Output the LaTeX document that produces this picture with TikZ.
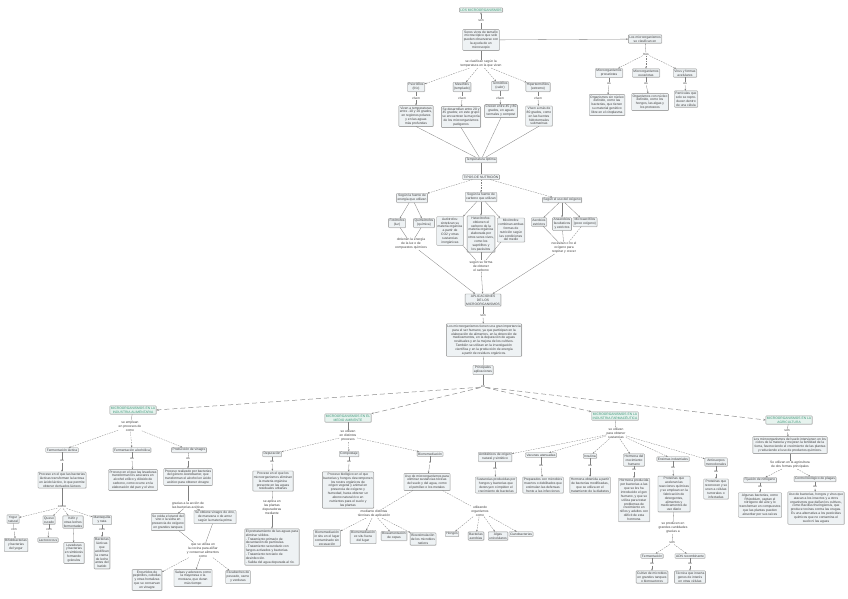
\documentclass[tikz,border=0pt]{standalone}
\usepackage{fontspec}
\setmainfont{Liberation Sans}
\usetikzlibrary{arrows.meta,shadows}
\definecolor{bfill}{RGB}{238,242,244}
\definecolor{gfill}{RGB}{230,243,238}
\definecolor{gtext}{RGB}{60,150,120}
\newcommand{\myfs}{\fontsize{3.3}{3.9}\selectfont}
\begin{document}
\begin{tikzpicture}[x=1pt,y=-1pt,
 bx/.style={draw=black!45, fill=bfill, line width=0.35pt, rounded corners=0.6pt, inner sep=1pt, align=center, font=\myfs, text=black!75, drop shadow={shadow xshift=0.5pt, shadow yshift=-0.5pt, fill=black!30}},
 gbx/.style={bx, fill=gfill, text=gtext, draw=black!40},
 lb/.style={inner sep=0.4pt, align=center, font=\myfs, text=black!75},
 ln/.style={draw=black!50, line width=0.3pt},
 dl/.style={ln, dash pattern=on 1.6pt off 1pt},
 ar/.style={-{Stealth[length=2pt,width=1.6pt]}},
 hl/.style={draw=black!45, line width=0.5pt, dash pattern=on 5pt off 3pt, -{Stealth[length=2.5pt,width=2pt]}},
]
\useasboundingbox[fill=white] (0,0) rectangle (848,599);

% ---------------- top ----------------
\node[gbx] (t0) at (481,10) {LOS MICROORGANISMOS};
\node[lb] (l0) at (481,21) {son};
\node[bx] (a1) at (481,40) {Seres vivos de tamaño\\ microscópico que solo\\ pueden observarse con\\ la ayuda de un\\ microscopio};
\node[lb] (l1) at (481,64) {se clasifican según la\\ temperatura en la que viven};
\node[bx] (b1) at (416,87) {Psicrófilos\\ (frío)};
\node[bx] (b2) at (462,87) {Mesófilos\\ (templado)};
\node[bx] (b3) at (500,86) {Termófilos\\ (calor)};
\node[bx] (b4) at (538,87) {Hipertermófilos\\ (extremo)};
\node[lb] (lb1) at (416,98) {viven};
\node[lb] (lb2) at (462,98) {viven};
\node[lb] (lb3) at (500,98) {viven};
\node[lb] (lb4) at (538,98) {viven};
\node[bx] (c1) at (416,116) {Viven a temperaturas\\ entre -10 y 20 grados,\\ en regiones polares\\ y en las aguas\\ más profundas};
\node[bx] (c2) at (461,117) {Se desarrollan entre 20 y\\ 45 grados; en este grupo\\ se encuentran la mayoría\\ de los microorganismos\\ patógenos};
\node[bx] (c3) at (501,111) {Crecen entre 45 y 80\\ grados, en aguas\\ termales y compost};
\node[bx] (c4) at (539,116) {Viven a más de\\ 80 grados, como\\ en las fuentes\\ hidrotermales\\ submarinas};
\node[bx] (m1) at (481,160) {Temperatura óptima};

\draw[ln] (a1) -- (l0); \draw[ln,ar] (l0) -- (t0);
\draw[ln] (a1) -- (l1);
\foreach \i in {1,2,3,4}{\draw[dl,ar] (l1) -- (b\i); \draw[ln] (b\i) -- (lb\i); \draw[ln,ar] (lb\i) -- (c\i); \draw[ln] (c\i.south) -- (m1);}

% ---------------- top right ----------------
\node[bx] (r0) at (645,39) {Los microorganismos\\ se clasifican en};
\node[lb] (lr) at (646,54) {tres};
\node[bx] (r1) at (609,73) {Microorganismos\\ procariotas};
\node[bx] (r2) at (646,73) {Microorganismos\\ eucariotas};
\node[bx] (r3) at (685,73) {Virus y formas\\ acelulares};
\node[lb] (lr1) at (609,84) {es};
\node[lb] (lr2) at (646,84) {es};
\node[lb] (lr3) at (685,84) {es};
\node[bx] (s1) at (607,105) {Organismos sin núcleo\\ definido, como las\\ bacterias, que tienen\\ su material genético\\ libre en el citoplasma};
\node[bx] (s2) at (650,102) {Organismos con núcleo\\ definido, como los\\ hongos, las algas y\\ los protozoos};
\node[bx] (s3) at (686,99) {Partículas que\\ solo se repro-\\ ducen dentro\\ de una célula};
\draw[ln,ar] (a1) -- (r0);
\draw[ln] (r0) -- (lr);
\foreach \i in {1,2,3}{\draw[dl,ar] (lr) -- (r\i); \draw[ln] (r\i) -- (lr\i); \draw[ln,ar] (lr\i) -- (s\i);}

% ---------------- middle ----------------
\node[bx] (tp) at (481,177) {TIPOS DE NUTRICIÓN};
\node[bx] (k1) at (412,198) {Según la fuente de\\ energía que utilizan};
\node[bx] (k2) at (481,197) {Según la fuente de\\ carbono que utilizan};
\node[bx] (k3) at (562,200) {Según el uso del oxígeno};
\node[bx] (k11) at (397,223) {Fotótrofos\\ (luz)};
\node[bx] (k12) at (424,223) {Quimiótrofos\\ (química)};
\node[lb] (q1) at (411,244) {obtienen la energía\\ de la luz o de\\ compuestos químicos};
\node[bx] (k21) at (450,231) {Autótrofos:\\ sintetizan su\\ materia orgánica\\ a partir de\\ CO2 y otras\\ sustancias\\ inorgánicas};
\node[bx] (k22) at (481,234) {Heterótrofos:\\ obtienen el\\ carbono de la\\ materia orgánica\\ elaborada por\\ otros seres vivos,\\ como los\\ saprófitos y\\ los parásitos};
\node[bx] (k23) at (511,230) {Mixótrofos:\\ combinan ambas\\ formas de\\ nutrición según\\ las condiciones\\ del medio};
\node[lb] (q2) at (481,266) {según su forma\\ de obtener\\ el carbono};
\node[bx] (k31) at (539,222) {Aerobios\\ estrictos};
\node[bx] (k32) at (562,224) {Anaerobios\\ facultativos\\ y estrictos};
\node[bx] (k33) at (585,222) {Microaerófilos\\ (poco oxígeno)};
\node[lb] (q3) at (564,248) {necesitan o no el\\ oxígeno para\\ respirar y crecer};
\node[bx] (ap) at (483,300) {APLICACIONES\\ DE LOS\\ MICROORGANISMOS};
\node[lb] (lap) at (483,316) {son};
\node[bx] (bp) at (484,340) {Los microorganismos tienen una gran importancia\\ para el ser humano, ya que participan en la\\ elaboración de alimentos, en la obtención de\\ medicamentos, en la depuración de aguas\\ residuales y en la mejora de los cultivos.\\ También se utilizan en la investigación\\ científica y en la producción de energía\\ a partir de residuos orgánicos.};
\node[bx] (sm) at (483,370) {Principales\\ aplicaciones};
\node[lb] (hub) at (483,387) {en};

\draw[ln] (m1) -- (tp);
\foreach \i in {1,2,3}{\draw[dl,ar] (tp) -- (k\i);}
\draw[ln,ar] (k1) -- (k11); \draw[ln,ar] (k1) -- (k12);
\draw[ln] (k11) -- (q1); \draw[ln] (k12) -- (q1);
\draw[ln,ar] (k2) -- (k21); \draw[ln,ar] (k2) -- (k22); \draw[ln,ar] (k2) -- (k23);
\draw[ln] (k21) -- (q2); \draw[ln] (k22) -- (q2); \draw[ln] (k23) -- (q2);
\draw[ln,ar] (k3) -- (k31); \draw[ln,ar] (k3) -- (k32); \draw[ln,ar] (k3) -- (k33);
\draw[ln] (k31) -- (q3); \draw[ln] (k32) -- (q3); \draw[dl] (k33) -- (q3);
\draw[ln,ar] (q1) -- (ap); \draw[ln,ar] (q2) -- (ap); \draw[ln,ar] (q3) -- (ap);
\draw[ln] (ap) -- (lap); \draw[ln,ar] (lap) -- (bp);
\draw[ln] (bp) -- (sm); \draw[ln] (sm) -- (hub);

% ---------------- green headers ----------------
\node[gbx] (g1) at (133,410) {MICROORGANISMOS EN LA\\ INDUSTRIA ALIMENTARIA};
\node[gbx] (g2) at (348,418) {MICROORGANISMOS EN EL\\ MEDIO AMBIENTE};
\node[gbx] (g3) at (615,416) {MICROORGANISMOS EN LA\\ INDUSTRIA FARMACÉUTICA};
\node[gbx] (g4) at (789,420) {MICROORGANISMOS EN LA\\ AGRICULTURA};
\draw[hl] (hub) -- (g1.east);
\draw[hl] (hub) -- (g2.north east);
\draw[hl] (hub) -- (g3.north west);
\draw[hl] (hub) -- (g4.west);

% ---------------- G1 ----------------
\node[lb] (h1) at (130,426) {se emplean\\ en procesos de\\ como};
\node[bx] (e1) at (62,450) {Fermentación láctica};
\node[bx] (e2) at (132,450) {Fermentación alcohólica};
\node[bx] (e3) at (189,450) {Producción de vinagre};
\node[lb] (le1) at (62,461) {es};
\node[lb] (le2) at (132,459) {es};
\node[lb] (le3) at (188,459) {es};
\node[bx] (f1) at (62,480) {Proceso en el que las bacterias\\ lácticas transforman la lactosa\\ en ácido láctico, lo que permite\\ obtener derivados lácteos};
\node[bx] (f2) at (133,480) {Proceso en el que las levaduras\\ transforman los azúcares en\\ alcohol etílico y dióxido de\\ carbono, como ocurre en la\\ elaboración del pan y el vino};
\node[bx] (f3) at (188,477) {Proceso realizado por bacterias\\ del género Acetobacter, que\\ transforman el alcohol en ácido\\ acético para obtener vinagre};
\node[lb] (lf1) at (62,507) {como};
\node[bx] (i1) at (13,519) {Yogur\\ natural};
\node[bx] (i2) at (49,520) {Queso\\ curado};
\node[bx] (i3) at (73,522) {Kéfir y\\ otras leches\\ fermentadas};
\node[bx] (i4) at (102,520) {Mantequilla\\ y nata};
\node[lb] (li1) at (14,530) {con};
\node[lb] (li2) at (49,530) {con};
\node[lb] (li4) at (102,530) {con};
\node[bx] (j1) at (16,545) {Bifidobacterias\\ y bacterias\\ del yogur};
\node[bx] (j2) at (48,540) {Lactococcus};
\node[bx] (j3) at (74,553) {Levaduras\\ y bacterias\\ en simbiosis\\ formando\\ gránulos};
\node[bx] (j4) at (102,553) {Bacterias\\ lácticas\\ que\\ acidifican\\ la crema\\ de leche\\ antes del\\ batido};
\node[lb] (h3) at (188,505) {gracias a la acción de\\ las bacterias acéticas};
\node[bx] (k4) at (168,522) {Se oxida el etanol del\\ vino o la sidra en\\ presencia de oxígeno\\ en grandes tanques};
\node[bx] (k5) at (215,517) {Se obtiene vinagre de vino,\\ de manzana o de arroz\\ según la materia prima};
\node[lb] (h4) at (203,550) {que se utiliza en\\ la cocina para aliñar\\ y conservar alimentos\\ como};
\node[bx] (m31) at (147,580) {Encurtidos de\\ pepinillos, cebollas\\ y otras hortalizas\\ que se conservan\\ en vinagre};
\node[bx] (m32) at (193,578) {Salsas y aderezos como\\ la mayonesa o la\\ mostaza, que duran\\ más tiempo};
\node[bx] (m33) at (238,577) {Escabeches de\\ pescado, carne\\ y verduras};

\draw[ln] (g1) -- (h1);
\foreach \i in {1,2,3}{\draw[dl,ar] (h1) -- (e\i); \draw[ln] (e\i) -- (le\i); \draw[ln,ar] (le\i) -- (f\i);}
\draw[ln] (f1) -- (lf1);
\foreach \i in {1,2,3,4}{\draw[dl,ar] (lf1) -- (i\i);}
\draw[ln] (i1) -- (li1); \draw[ln,ar] (li1) -- (j1);
\draw[ln] (i2) -- (li2); \draw[ln,ar] (li2) -- (j2);
\draw[ln,ar] (i3) -- (j3);
\draw[ln] (i4) -- (li4); \draw[ln,ar] (li4) -- (j4);
\draw[ln] (f3) -- (h3); \draw[ln,ar] (h3) -- (k4); \draw[ln,ar] (h3) -- (k5);
\draw[ln] (k4) -- (h4); \draw[ln] (k5) -- (h4);
\draw[dl,ar] (h4) -- (m31); \draw[ln,ar] (h4) -- (m32); \draw[dl,ar] (h4) -- (m33);

% ---------------- G2 ----------------
\node[lb] (h2) at (348,436) {se utilizan\\ en distintos\\ procesos};
\node[bx] (n1) at (272,454) {Depuración};
\node[bx] (n2) at (349,454) {Compostaje};
\node[bx] (n3) at (430,454) {Biorremediación};
\node[lb] (ln1) at (272,462) {es};
\node[lb] (ln2) at (349,462) {es};
\node[lb] (ln3) at (430,463) {o};
\node[bx] (o1) at (273,481) {Proceso en el que los\\ microorganismos eliminan\\ la materia orgánica\\ presente en las aguas\\ residuales urbanas};
\node[lb] (p1) at (272,507) {se aplica en\\ las plantas\\ depuradoras\\ mediante};
\node[bx,align=left] (qq) at (272,547) {El pretratamiento de las aguas para\\ eliminar sólidos.\\ - Tratamiento primario de\\ decantación de partículas.\\ - Tratamiento secundario con\\ fangos activados y bacterias.\\ - Tratamiento terciario de\\ desinfección.\\ - Salida del agua depurada al río.};
\node[bx] (o2) at (348,490) {Proceso biológico en el que\\ bacterias y hongos descomponen\\ los restos orgánicos de\\ origen vegetal y animal en\\ presencia de oxígeno y\\ humedad, hasta obtener un\\ abono natural rico en\\ nutrientes para el suelo y\\ las plantas};
\node[bx] (o3) at (427,482) {Uso de microorganismos para\\ eliminar sustancias tóxicas\\ del suelo y del agua, como\\ el petróleo o los metales};
\node[lb] (la) at (374,514) {mediante distintas\\ técnicas de aplicación};
\node[lb] (lbb) at (480,511) {utilizando\\ organismos\\ como};
\node[bx] (u1) at (327,538) {Biorremediación\\ in situ en el lugar\\ contaminado sin\\ excavación};
\node[bx] (u2) at (363,537) {Biorremediación\\ ex situ fuera\\ del lugar};
\node[bx] (u3) at (394,536) {Bioaumentación\\ de cepas};
\node[bx] (u4) at (423,539) {Bioestimulación\\ de los microbios\\ nativos};
\node[bx] (w1) at (452,534) {Hongos};
\node[bx] (w2) at (476,536) {Bacterias\\ aerobias};
\node[bx] (w3) at (498,536) {Algas\\ unicelulares};
\node[bx] (w4) at (521,534) {Cianobacterias};

\draw[ln] (g2) -- (h2);
\foreach \i in {1,2,3}{\draw[dl,ar] (h2) -- (n\i); \draw[ln] (n\i) -- (ln\i); \draw[ln,ar] (ln\i) -- (o\i);}
\draw[ln] (o1) -- (p1); \draw[ln,ar] (p1) -- (qq);
\draw[dl] (o3) -- (la); \draw[dl] (o3) -- (lbb);
\foreach \i in {1,2,3,4}{\draw[dl,ar] (la) -- (u\i); \draw[dl,ar] (lbb) -- (w\i);}

% ---------------- G3 ----------------
\node[lb] (h5) at (616,433) {se utilizan\\ para obtener\\ sustancias};
\node[bx] (x1) at (495,457) {Antibióticos de origen\\ natural y sintético};
\node[bx] (x2) at (541,455) {Vacunas atenuadas};
\node[bx] (x3) at (590,456) {Insulina};
\node[bx] (x4) at (634,460) {Hormona del\\ crecimiento\\ humano};
\node[bx] (x5) at (673,459) {Enzimas industriales};
\node[bx] (x6) at (716,462) {Anticuerpos\\ monoclonales};
\node[lb] (lx1) at (495,469) {es};
\node[lb] (lx2) at (541,466) {es};
\node[lb] (lx3) at (590,466) {es};
\node[lb] (lx4) at (634,470) {es};
\node[lb] (lx5) at (673,468) {es};
\node[lb] (lx6) at (716,472) {es};
\node[bx] (y1) at (496,485) {Sustancias producidas por\\ hongos y bacterias que\\ destruyen o impiden el\\ crecimiento de bacterias};
\node[bx] (y2) at (543,485) {Preparados con microbios\\ muertos o debilitados que\\ estimulan las defensas\\ frente a las infecciones};
\node[bx] (y3) at (590,485) {Hormona obtenida a partir\\ de bacterias modificadas,\\ que se utiliza en el\\ tratamiento de la diabetes};
\node[bx] (y4) at (634,500) {Hormona producida\\ por bacterias a las\\ que se les ha\\ introducido el gen\\ humano, y que se\\ utiliza para tratar\\ problemas de\\ crecimiento en\\ niños y adultos con\\ déficit de esta\\ hormona};
\node[bx] (y5) at (674,494) {Proteínas que\\ aceleran las\\ reacciones químicas\\ y se emplean en la\\ fabricación de\\ detergentes,\\ alimentos y\\ medicamentos de\\ uso diario};
\node[bx] (y6) at (716,489) {Proteínas que\\ reconocen y se\\ unen a células\\ tumorales o\\ infectadas};
\node[lb] (lz) at (673,528) {se producen en\\ grandes cantidades\\ gracias a};
\node[lb] (lz2) at (672,543) {son};
\node[bx] (z1) at (652,556) {Fermentación};
\node[bx] (z2) at (690,556) {ADN recombinante};
\node[lb] (lz3) at (652,564) {es};
\node[lb] (lz4) at (690,564) {es};
\node[bx] (zz1) at (652,577) {Cultivo de microbios\\ en grandes tanques\\ o biorreactores};
\node[bx] (zz2) at (690,577) {Técnica que inserta\\ genes de interés\\ en otras células};

\draw[ln] (g3) -- (h5);
\foreach \i in {1,...,6}{\draw[dl,ar] (h5) -- (x\i); \draw[ln] (x\i) -- (lx\i); \draw[ln,ar] (lx\i) -- (y\i);}
\draw[ln] (y5) -- (lz); \draw[ln] (lz) -- (lz2);
\draw[dl,ar] (lz2) -- (z1); \draw[dl,ar] (lz2) -- (z2);
\draw[ln] (z1) -- (lz3); \draw[ln,ar] (lz3) -- (zz1);
\draw[ln] (z2) -- (lz4); \draw[ln,ar] (lz4) -- (zz2);

% ---------------- G4 ----------------
\node[lb] (h6) at (787,431) {son};
\node[bx] (v0) at (790,445) {Los microorganismos del suelo intervienen en los\\ ciclos de la materia y mejoran la fertilidad de la\\ tierra, favoreciendo el crecimiento de las plantas\\ y reduciendo el uso de productos químicos.};
\node[lb] (lv) at (790,465) {Se utilizan en la agricultura\\ de dos formas principales};
\node[bx] (v1) at (760,480) {Fijación de nitrógeno};
\node[bx] (v2) at (815,479) {Control biológico de plagas};
\node[lb] (lv1) at (760,487) {es};
\node[lb] (lv2) at (815,487) {es};
\node[bx] (vv1) at (760,505) {Algunas bacterias, como\\ Rhizobium, captan el\\ nitrógeno del aire y lo\\ transforman en compuestos\\ que las plantas pueden\\ absorber por sus raíces};
\node[bx] (vv2) at (816,508) {Uso de bacterias, hongos y virus que\\ atacan a los insectos y a otros\\ organismos que dañan los cultivos,\\ como Bacillus thuringiensis, que\\ produce toxinas contra las orugas.\\ Es una alternativa a los pesticidas\\ químicos que no contamina el\\ suelo ni las aguas};

\draw[ln] (g4) -- (h6); \draw[ln,ar] (h6) -- (v0);
\draw[ln] (v0) -- (lv);
\draw[dl,ar] (lv) -- (v1); \draw[dl,ar] (lv) -- (v2);
\draw[ln] (v1) -- (lv1); \draw[ln,ar] (lv1) -- (vv1);
\draw[ln] (v2) -- (lv2); \draw[ln,ar] (lv2) -- (vv2);
\end{tikzpicture}
\end{document}
